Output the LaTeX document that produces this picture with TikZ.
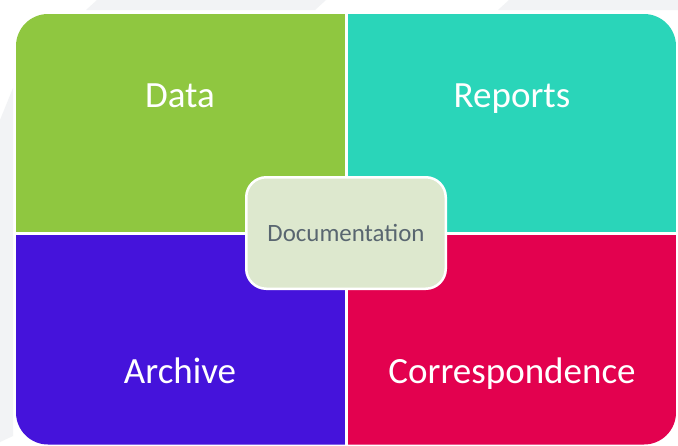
\documentclass[tikz,border=0pt]{standalone}
\usepackage{fontspec}
\setmainfont{Carlito}
\definecolor{qgreen}{HTML}{8FC740}
\definecolor{qteal}{HTML}{2AD5B9}
\definecolor{qpurple}{HTML}{4513DB}
\definecolor{qred}{HTML}{E3014F}
\definecolor{docfill}{HTML}{DDE8CE}
\definecolor{doctext}{HTML}{596670}
\definecolor{bggray}{HTML}{F2F3F5}
\tikzset{
  quadlabel/.style={text=white, anchor=base, inner sep=0pt, font=\fontsize{37}{44}\selectfont},
  docbox/.style={draw=white, line width=2.5pt, fill=docfill, rounded corners=20pt,
    minimum width=199.5pt, minimum height=111.5pt, inner sep=0pt},
  doclabel/.style={text=doctext, anchor=base, inner sep=0pt, font=\fontsize{24.9}{30}\selectfont}
}
\begin{document}
\begin{tikzpicture}[x=1pt, y=-1pt]
\useasboundingbox (0,0) rectangle (678,445);
\fill[white] (0,0) rectangle (678,445);
% faint background bands
\fill[bggray] (86,10) -- (97,0) -- (326,0) -- (315,10) -- cycle;
\fill[bggray] (498,10) -- (509,0) -- (678,0) -- (678,10) -- cycle;
\fill[bggray] (0,120) -- (13,88) -- (13,436) -- (0,442) -- cycle;
% quadrants
\begin{scope}
  \clip[rounded corners=32pt] (16,14) rectangle (676,444.5);
  \fill[qgreen]  (16,14)    rectangle (344.5,231.5);
  \fill[qteal]   (347.5,14) rectangle (676,231.5);
  \fill[qpurple] (16,235)   rectangle (344.5,444.5);
  \fill[qred]    (347.5,235) rectangle (676,444.5);
\end{scope}
\node[quadlabel] (data) at (180,107) {Data};
\node[quadlabel] (reports) at (512,107) {Reports};
\node[quadlabel] (archive) at (180,383) {Archive};
\node[quadlabel] (corr) at (512,383) {Correspondence};
% centre box
\node[docbox] (box) at (346,233) {};
\node[doclabel] (doc) at (346,241.7) {Documentation};
\end{tikzpicture}
\end{document}
